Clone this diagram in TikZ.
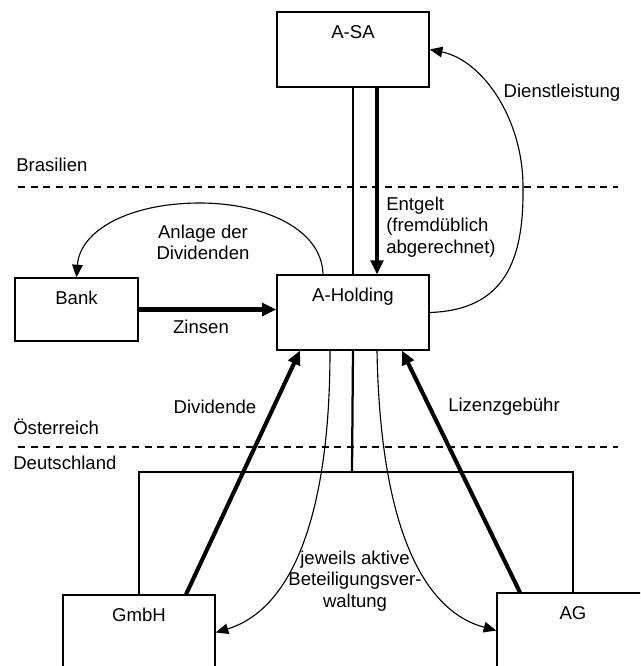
\documentclass[tikz,border=0pt]{standalone}
\usepackage{fontspec}
\setmainfont{Liberation Sans}
\usetikzlibrary{arrows.meta,calc,positioning}

\tikzset{
  kasten/.style={draw,line width=1pt,minimum width=3.8cm,inner xsep=0pt,
    inner ysep=9.2pt,text height=9.5pt,text depth=25.25pt},
  geld/.style={line width=2.9pt,-{Triangle[length=10pt,width=9pt]}},
  leistung/.style={line width=0.8pt,-{Triangle[length=9pt,width=7.5pt]}},
  grenze/.style={line width=0.8pt,dash pattern=on 5pt off 4pt},
  beschriftung/.style={inner sep=0pt,align=center}
}

\begin{document}
\begin{tikzpicture}[x=0.025cm,y=-0.025cm,font=\fontsize{13.2}{15.2}\selectfont]
\useasboundingbox (0,0) rectangle (640,666);
\clip (0,0) rectangle (640,666);

\foreach \y in {187,447}
  \draw[grenze] (18,\y) -- (618,\y);
\node[beschriftung,anchor=west] (brasilien) at (16,165) {Brasilien};
\node[beschriftung,anchor=west] (oesterreich) at (13,427) {Österreich};
\node[beschriftung,anchor=west] (deutschland) at (13,463) {Deutschland};

\node[kasten] (asa) at (353,49.5) {A-SA};
\node[kasten] (holding) at (353,312.5) {A-Holding};
\node[kasten,minimum width=3.075cm,text depth=16.75pt] (bank) at (76.5,309.5) {Bank};
\node[kasten] (gmbh) at (139,632.5) {GmbH};
\node[kasten] (ag) at (573,630.5) {AG};

\draw[line width=1pt] (asa) -- (holding);
\draw[geld] ($(asa.south)+(24,0)$) -- ($(holding.north)+(24,0)$);
\node[beschriftung,anchor=west,align=left] (entgelt) at (386,227)
  {Entgelt\\(fremdüblich\\abgerechnet)};
\draw[leistung] (holding.east) .. controls (505,310) and (524,260) .. (523,187)
  .. controls (523,118) and (482,60) .. (asa.east);
\node[beschriftung] (dienst) at (562,93) {Dienstleistung};

\draw[leistung] ($(holding.north)+(-30,0)$) .. controls (322,228) and (262,203) .. (200,203)
  .. controls (130,203) and (80,230) .. (bank.north);
\node[beschriftung] (anlage) at (203,242.5) {Anlage der\\Dividenden};
\draw[geld] (bank.east) -- (bank.east -| holding.west);
\node[beschriftung] (zinsen) at (201,327) {Zinsen};

\coordinate (verzweigung) at (352,472);
\draw[line width=1.6pt] (holding.south) -- (verzweigung);
\draw[line width=1pt] (gmbh.north) |- (verzweigung) -| (ag.north);

\draw[geld] ($(gmbh.north)+(47,0)$) -- ($(holding.south)+(-53,0)$);
\node[beschriftung] (dividende) at (215,407) {Dividende};
\draw[geld] ($(ag.north)+(-53,0)$) -- ($(holding.south)+(49,0)$);
\node[beschriftung] (lizenz) at (504,407) {Lizenzgebühr};

\draw[leistung] ($(holding.south)+(-23,0)$) .. controls (330,520) and (290,610) .. (gmbh.east);
\draw[leistung] ($(holding.south)+(24,0)$) .. controls (380,520) and (420,610) .. (ag.west);
\node[beschriftung] (verwaltung) at (355,581) {jeweils aktive\\Beteiligungsver-\\waltung};
\end{tikzpicture}
\end{document}
